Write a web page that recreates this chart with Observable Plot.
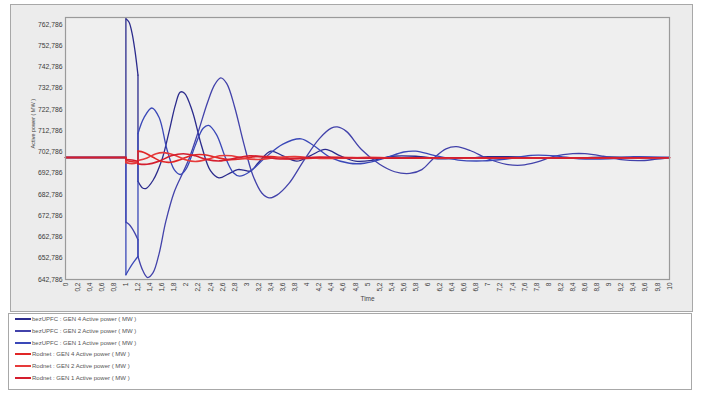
<!DOCTYPE html>
<html>
<head>
<meta charset="utf-8">
<script src="https://cdn.jsdelivr.net/npm/d3@7"></script>
<script src="https://cdn.jsdelivr.net/npm/@observablehq/plot@0.6"></script>
<style>
  html, body { margin: 0; padding: 0; background: #ffffff; }
  body { width: 701px; height: 394px; position: relative; overflow: hidden; font-family: "Liberation Sans", Arial, sans-serif; }
  #panel { position: absolute; left: 10px; top: 4px; width: 681px; height: 306px; border: 1px solid #a8a8a8; background: #ececec; }
  #chart { position: absolute; left: 0; top: 0; }
  #legend { position: absolute; left: 8px; top: 313px; width: 682px; height: 75px; border: 1px solid #a8a8a8; background: #ffffff; }
  .item { position: absolute; left: 6px; height: 10px; font-size: 6px; color: #555; white-space: nowrap; }
  .item .sw { position: absolute; left: 0; top: 4px; width: 16px; height: 2px; }
  .item .lb { position: absolute; left: 17px; top: 0; line-height: 10px; }
</style>
</head>
<body>
<div id="panel"></div>
<div id="chart"></div>
<div id="legend"></div>
<script>
// ---------- data ----------
const seriesNames = [
  "bezUPFC : GEN 4 Active power ( MW )",
  "bezUPFC : GEN 2 Active power ( MW )",
  "bezUPFC : GEN 1 Active power ( MW )",
  "Rodnet : GEN 4 Active power ( MW )",
  "Rodnet : GEN 2 Active power ( MW )",
  "Rodnet : GEN 1 Active power ( MW )"
];
const seriesColors = ["#2b2b8c", "#4242aa", "#3a48b8", "#e02626", "#e63a3a", "#d41e2e"];

const xTickValues = [0,0.2,0.4,0.6,0.8,1,1.2,1.4,1.6,1.8,2,2.2,2.4,2.6,2.8,3,3.2,3.4,3.6,3.8,4,4.2,4.4,4.6,4.8,5,5.2,5.4,5.6,5.8,6,6.2,6.4,6.6,6.8,7,7.2,7.4,7.6,7.8,8,8.2,8.4,8.6,8.8,9,9.2,9.4,9.6,9.8,10];
const yTickValues = [642.786,652.786,662.786,672.786,682.786,692.786,702.786,712.786,722.786,732.786,742.786,752.786,762.786];

// pre-fault steady state (all generators)
const preFault = [[0,700.2],[1,700.2]];

// bezUPFC GEN 4
const bezGen4Fault = [[1,765.5],[1.05,764],[1.1,759],[1.15,750.5],[1.2,739]];
const bezGen4Post = [[1.2,689],[1.27,686],[1.33,685.6],[1.45,689.5],[1.6,699.5],[1.72,713],[1.82,725],[1.9,731],[1.97,730.5],[2.1,722],[2.25,706],[2.4,694],[2.54,690.6],[2.7,692.5],[2.85,694.5],[2.95,694.3],[3.06,693.8],[3.2,698],[3.4,703.2],[3.6,701],[3.83,698.5],[4.05,701],[4.3,704],[4.55,701],[4.8,698.5],[5.1,699],[5.4,700.8],[5.8,700.8],[6.2,699.6],[6.6,699.8],[7,700.6],[7.5,700.5],[8,699.8],[8.5,700],[9,700.5],[9.5,700.2],[10,700.2]];

// bezUPFC GEN 2
const bezGen2Fault = [[1,669.8],[1.05,668.8],[1.1,667],[1.15,664.5],[1.2,661.5]];
const bezGen2Post = [[1.2,653.6],[1.28,647],[1.36,643.7],[1.45,646],[1.55,655],[1.66,670],[1.8,684],[1.95,693.5],[2.05,700],[2.2,712.5],[2.35,726],[2.47,734.5],[2.57,737.7],[2.67,735],[2.8,724],[2.95,707],[3.1,692],[3.25,683.5],[3.37,681.2],[3.5,682.5],[3.7,688],[3.95,699],[4.2,709],[4.4,714],[4.5,714.6],[4.65,712.5],[4.9,704],[5.2,697],[5.45,693.5],[5.7,692.7],[5.9,694.5],[6.1,700],[6.3,704.3],[6.47,705.3],[6.7,703.5],[7,699.5],[7.3,697],[7.55,696.6],[7.8,698],[8.1,700.8],[8.4,702],[8.6,702],[8.9,700.8],[9.2,699.2],[9.5,698.7],[9.75,699.3],[10,700.2]];

// bezUPFC GEN 1
const bezGen1Fault = [[1,645],[1.05,647.5],[1.1,649.8],[1.15,651.8],[1.2,653.6]];
const bezGen1Post = [[1.2,711.5],[1.3,719],[1.43,723.5],[1.55,719],[1.68,704],[1.8,694.5],[1.9,692.2],[2.0,695],[2.15,706],[2.28,714],[2.37,715.3],[2.5,711],[2.65,700],[2.78,693],[2.88,691.4],[3.05,693.5],[3.3,700],[3.6,706.5],[3.9,709],[4.1,706],[4.4,700],[4.7,697.5],[4.95,697.5],[5.3,700],[5.6,702.8],[5.8,703.2],[6.1,701.2],[6.5,699],[6.9,698.6],[7.3,699.5],[7.7,701.2],[8.1,701],[8.5,699.6],[9,699.6],[9.4,700.6],[10,700.2]];

// Rodnet GEN 4
const rodGen4Fault = [[1,698.8],[1.1,698.2],[1.2,698]];
const rodGen4Post = [[1.2,703.2],[1.3,702.6],[1.45,700.3],[1.6,698.3],[1.75,698],[1.9,699.2],[2.1,701.3],[2.3,701.5],[2.5,700.2],[2.7,699.2],[2.9,699.5],[3.1,700.5],[3.4,700.6],[3.7,699.7],[4.1,699.9],[4.5,700.3],[5,700],[6,700.1],[7,699.9],[8,700.1],[9,700],[10,700.1]];

// Rodnet GEN 2
const rodGen2Fault = [[1,697.8],[1.1,697.3],[1.2,697.8]];
const rodGen2Post = [[1.2,698.8],[1.35,700],[1.5,702],[1.62,702.5],[1.8,701.4],[2.0,699],[2.15,698.3],[2.35,699.4],[2.55,701],[2.75,701],[2.95,699.8],[3.2,699.3],[3.5,700.2],[3.8,700.6],[4.2,699.8],[4.6,699.9],[5,700.3],[5.6,699.9],[6.5,700.1],[7.5,700],[8.5,700.1],[10,700.1]];

// Rodnet GEN 1
const rodGen1Fault = [[1,699.3],[1.1,699],[1.2,698.5]];
const rodGen1Post = [[1.2,697.2],[1.35,697],[1.55,698.5],[1.75,701],[1.95,702],[2.15,701],[2.35,699.2],[2.55,698.6],[2.8,699.8],[3.05,701],[3.3,700.4],[3.55,699.5],[3.85,699.8],[4.2,700.4],[4.7,700],[5.5,699.9],[6.5,700.1],[8,700],[10,700.1]];

// ---------- build ----------
const segs = [
  [bezGen4Fault, bezGen4Post],
  [bezGen2Fault, bezGen2Post],
  [bezGen1Fault, bezGen1Post],
  [rodGen4Fault, rodGen4Post],
  [rodGen2Fault, rodGen2Post],
  [rodGen1Fault, rodGen1Post]
];
const fmtY = v => d3.format(".3f")(v).replace(".", ",");
const fmtX = v => String(v).replace(".", ",");

const lineMarks = [];
segs.forEach(([fault, post], i) => {
  const color = seriesColors[i];
  const w = i < 3 ? 1.3 : 1.6;
  const opt = {x: d => d[0], y: d => d[1], stroke: color, strokeWidth: w};
  lineMarks.push(Plot.line(preFault, opt));
  lineMarks.push(Plot.line([preFault[preFault.length - 1], fault[0]], opt));
  lineMarks.push(Plot.line(fault, {...opt, curve: "catmull-rom"}));
  lineMarks.push(Plot.line([fault[fault.length - 1], post[0]], opt));
  lineMarks.push(Plot.line(post, {...opt, curve: "catmull-rom"}));
});

const chart = Plot.plot({
  width: 701,
  height: 312,
  marginLeft: 65,
  marginRight: 32,
  marginTop: 17,
  marginBottom: 33,
  style: {background: "transparent", fontFamily: "'Liberation Sans', Arial, sans-serif", fontSize: "7px", color: "#3a3a3a"},
  x: {domain: [0, 10]},
  y: {domain: [642.786, 766.1]},
  marks: [
    Plot.frame({fill: "#efefef"}),
    ...lineMarks,
    Plot.frame({stroke: "#9a9a9a", strokeWidth: 1.2}),
    Plot.axisY({ticks: yTickValues, tickFormat: fmtY, tickSize: 0, tickPadding: 3, label: null, fontSize: 6.8}),
    Plot.axisX({ticks: xTickValues, tickFormat: fmtX, tickSize: 0, tickPadding: 3, tickRotate: -90, label: null, fontSize: 6.5}),
    Plot.text(["Time"], {frameAnchor: "bottom", dy: 21, fontSize: 6.5, fill: "#444"}),
    Plot.text(["Active power ( MW )"], {frameAnchor: "left", dx: -32, rotate: -90, fontSize: 5.5, fill: "#444"})
  ]
});
document.getElementById("chart").appendChild(chart);

// legend
const legend = document.getElementById("legend");
seriesNames.forEach((name, i) => {
  const it = document.createElement("div");
  it.className = "item";
  it.style.top = Math.round(i * 11.8) + "px";
  it.innerHTML = `<span class="sw" style="background:${seriesColors[i]}"></span><span class="lb"></span>`;
  it.querySelector(".lb").textContent = name;
  legend.appendChild(it);
});
</script>
</body>
</html>
